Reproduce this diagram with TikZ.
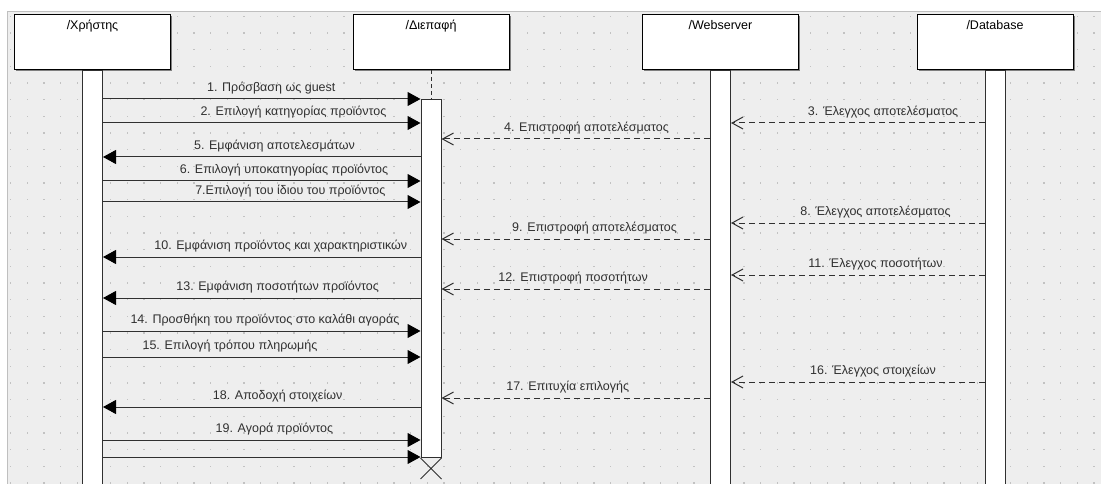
\documentclass[tikz,border=0pt]{standalone}
\usepackage{fontspec}
\setmainfont{Liberation Sans}
\usetikzlibrary{arrows.meta,shadows}
\definecolor{canvas}{HTML}{EEEEEE}
\definecolor{griddot}{HTML}{C2C2C2}
\definecolor{ink}{HTML}{303030}
\newcommand{\lblfont}{\fontsize{12.5}{14}\selectfont}

\begin{document}
\begin{tikzpicture}[x=1pt,y=-1pt,
		head/.style={draw=black,fill=white,line width=1pt,minimum width=156pt,minimum height=55pt,anchor=north,inner sep=0pt,
			drop shadow={shadow xshift=1.5pt,shadow yshift=-1.5pt,fill=gray,opacity=1}},
		bar/.style={draw=ink,fill=white,line width=1pt,minimum width=20pt,anchor=north,inner sep=0pt},
		call/.style={draw=ink,line width=1pt,-{Triangle[length=13pt,width=14pt,color=black]}},
		reply/.style={draw=ink,line width=1pt,dash pattern=on 6pt off 4pt,-{Straight Barb[length=11pt,width=12pt]}},
		msg/.style={above=3pt,inner sep=1pt,font=\lblfont,text=ink}]
	\useasboundingbox (0,0) rectangle (1101,484);
	\fill [white] (0,0) rectangle (1101,484);
	\fill [canvas] (7,11) rectangle (1101,484);
	\draw [gray!50] (7,484) |- (1101,11);
	\foreach \x in {10,26.667,...,1100}
		\foreach \y in {15.7,32.367,...,484}
			\fill [griddot] (\x,\y) rectangle ++(1.3,1.3);

	% lifeline heads
	\node [head,label={[anchor=north,yshift=-3pt,font=\lblfont]north:/Χρήστης}] (user) at (92.5,14) {};
	\node [head,label={[anchor=north,yshift=-3pt,font=\lblfont]north:/Διεπαφή}] (iface) at (431,14) {};
	\node [head,label={[anchor=north,yshift=-3pt,font=\lblfont]north:/Webserver}] (web) at (720.5,14) {};
	\node [head,label={[anchor=north,yshift=-3pt,font=\lblfont]north:/Database}] (db) at (995,14) {};

	% activation bars
	\node [bar,minimum height=416pt] (ubar) at (user.south) {};
	\node [bar,minimum height=358pt] (ibar) at (431,99) {};
	\node [bar,minimum height=416pt] (wbar) at (web.south) {};
	\node [bar,minimum height=416pt] (dbar) at (db.south) {};
	\draw [ink,line width=1pt,dash pattern=on 4pt off 3pt] (iface.south) -- (ibar.north);
	\draw [ink,line width=1pt] (ibar.south west) -- ++(21,21) (ibar.south east) -- ++(-21,21);

	% messages
	\draw [call] (ubar.east |- 0,99) -- (ibar.west |- 0,99) node [msg,pos=.53] {1. Πρόσβαση ως guest};
	\draw [call] (ubar.east |- 0,123) -- (ibar.west |- 0,123) node [msg,pos=.6] {2. Επιλογή κατηγορίας προϊόντος};
	\draw [reply] (dbar.west |- 0,123) -- (wbar.east |- 0,123) node [msg,pos=.4] {3. Έλεγχος αποτελέσματος};
	\draw [reply] (wbar.west |- 0,139) -- (ibar.east |- 0,139) node [msg,pos=.46] {4. Επιστροφή αποτελέσματος};
	\draw [call] (ibar.west |- 0,157) -- (ubar.east |- 0,157) node [msg,pos=.46] {5. Εμφάνιση αποτελεσμάτων};
	\draw [call] (ubar.east |- 0,181) -- (ibar.west |- 0,181) node [msg,pos=.57] {6. Επιλογή υποκατηγορίας προϊόντος};
	\draw [call] (ubar.east |- 0,202) -- (ibar.west |- 0,202) node [msg,pos=.59] {7.Επιλογή του ίδιου του προϊόντος};
	\draw [reply] (dbar.west |- 0,223) -- (wbar.east |- 0,223) node [msg,pos=.43] {8. Έλεγχος αποτελέσματος};
	\draw [reply] (wbar.west |- 0,239) -- (ibar.east |- 0,239) node [msg,pos=.43] {9. Επιστροφή αποτελέσματος};
	\draw [call] (ibar.west |- 0,257) -- (ubar.east |- 0,257) node [msg,pos=.44] {10. Εμφάνιση προϊόντος και χαρακτηριστικών};
	\draw [reply] (dbar.west |- 0,275) -- (wbar.east |- 0,275) node [msg,pos=.43] {11. Έλεγχος ποσοτήτων};
	\draw [reply] (wbar.west |- 0,289) -- (ibar.east |- 0,289) node [msg,pos=.51] {12. Επιστροφή ποσοτήτων};
	\draw [call] (ibar.west |- 0,298) -- (ubar.east |- 0,298) node [msg,pos=.45] {13. Εμφάνιση ποσοτήτων προϊόντος};
	\draw [call] (ubar.east |- 0,331) -- (ibar.west |- 0,331) node [msg,pos=.51] {14. Προσθήκη του προϊόντος στο καλάθι αγοράς};
	\draw [call] (ubar.east |- 0,357) -- (ibar.west |- 0,357) node [msg,pos=.4] {15. Επιλογή τρόπου πληρωμής};
	\draw [reply] (dbar.west |- 0,382) -- (wbar.east |- 0,382) node [msg,pos=.44] {16. Έλεγχος στοιχείων};
	\draw [reply] (wbar.west |- 0,398) -- (ibar.east |- 0,398) node [msg,pos=.53] {17. Επιτυχία επιλογής};
	\draw [call] (ibar.west |- 0,407) -- (ubar.east |- 0,407) node [msg,pos=.45] {18. Αποδοχή στοιχείων};
	\draw [call] (ubar.east |- 0,440) -- (ibar.west |- 0,440) node [msg,pos=.54] {19. Αγορά προϊόντος};
	\draw [call] (ubar.east |- 0,457) -- (ibar.west |- 0,457);
\end{tikzpicture}
\end{document}
